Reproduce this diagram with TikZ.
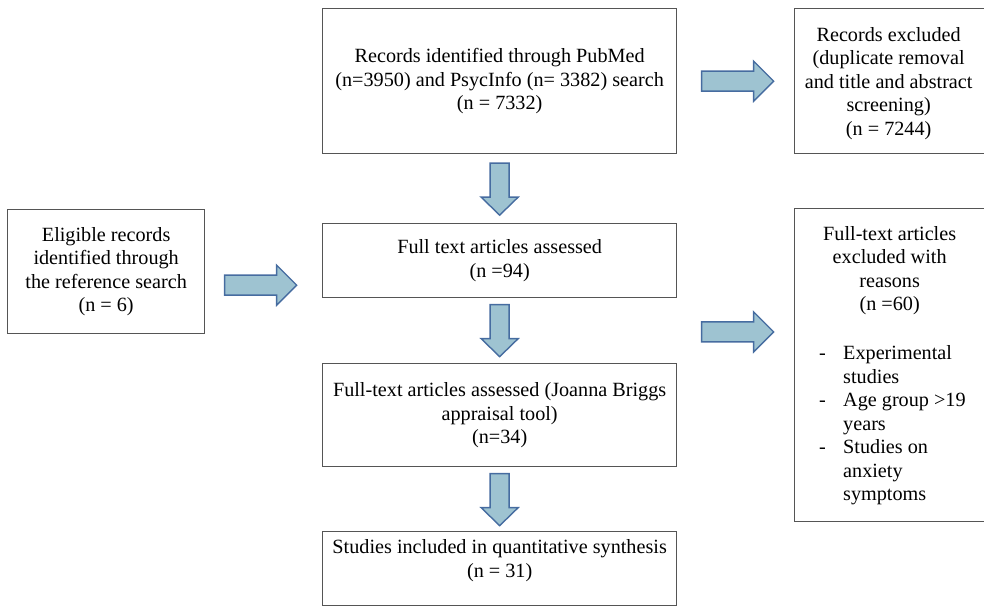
\documentclass[tikz,border=0pt]{standalone}
\usepackage{fontspec}
\setmainfont{Liberation Serif}
\usetikzlibrary{calc}
\definecolor{arrfill}{RGB}{158,195,209}
\definecolor{arrdraw}{RGB}{70,108,160}
\definecolor{boxgray}{RGB}{85,85,85}
\begin{document}
\begin{tikzpicture}[x=1pt,y=-1pt,
  box/.style={draw=boxgray, line width=1.3pt, inner sep=0pt, anchor=north west},
  txt/.style={align=center, inner sep=0pt, font=\fontsize{20.2}{23.5}\selectfont},
  barrow/.style={fill=arrfill, draw=arrdraw, line width=1.4pt, line join=miter},
  rarr/.pic={\draw[barrow] (-36,-10) -- (16,-10) -- (16,-20) -- (36,0) -- (16,20) -- (16,10) -- (-36,10) -- cycle;},
  darr/.pic={\draw[barrow] (-9.5,-26) -- (9.5,-26) -- (9.5,8) -- (18.5,8) -- (0,26) -- (-18.5,8) -- (-9.5,8) -- cycle;}]
\useasboundingbox (0,0) rectangle (984,606);
% boxes
\node[box, minimum width=354pt, minimum height=145pt] (top) at (322,8) {};
\node[box, minimum width=190pt, minimum height=145pt] (rt) at (794,8) {};
\node[box, minimum width=197pt, minimum height=124pt] (left) at (7,209) {};
\node[box, minimum width=354pt, minimum height=74pt] (mid) at (322,223) {};
\node[box, minimum width=190pt, minimum height=313pt] (rb) at (794,208) {};
\node[box, minimum width=354pt, minimum height=103pt] (rev) at (322,363) {};
\node[box, minimum width=354pt, minimum height=74pt] (inc) at (322,531) {};
% texts
\node[txt] (ttop) at (top.center) {Records identified through PubMed\\(n=3950) and PsycInfo (n= 3382) search\\(n = 7332)};
\node[txt] (trt) at ([xshift=-1pt,yshift=-2pt]rt.center) {Records excluded\\(duplicate removal\\and title and abstract\\screening)\\(n = 7244)};
\node[txt] (tleft) at (left.center) {Eligible records\\identified through\\the reference search\\(n = 6)};
\node[txt] (tmid) at (mid.center) {Full text articles assessed\\(n =94)};
\node[txt] (trev) at (rev.center) {Full-text articles assessed (Joanna Briggs\\appraisal tool)\\(n=34)};
\node[txt] (tinc) at ([yshift=8pt]inc.center) {Studies included in quantitative synthesis\\(n = 31)};
\node[txt, anchor=north] (trb) at ($(rb.north)+(0,18)$) {Full-text articles\\excluded with\\reasons\\(n =60)};
\node[txt, anchor=north west, align=left] (tlist) at ($(rb.north west)+(25,135)$) {%
\begin{tabular}{@{}p{24pt}@{}l@{}}
-&Experimental\\
 &studies\\
-&Age group >19\\
 &years\\
-&Studies on\\
 &anxiety\\
 &symptoms
\end{tabular}};
% arrows
\pic at ($(top.east)!0.5!(rt.west)+(2,0)$) {rarr};
\pic at ($(top.south)!0.5!(mid.north)+(0,0.5)$) {darr};
\pic at ($(left.east)!0.5!(mid.west)+(-3,19)$) {rarr};
\pic at ($(mid.east)!0.5!(rb.west)+(2,19)$) {rarr};
\pic at ($(mid.south)!0.5!(rev.north)$) {darr};
\pic at ($(rev.south)!0.5!(inc.north)+(0,0.5)$) {darr};
\end{tikzpicture}
\end{document}
